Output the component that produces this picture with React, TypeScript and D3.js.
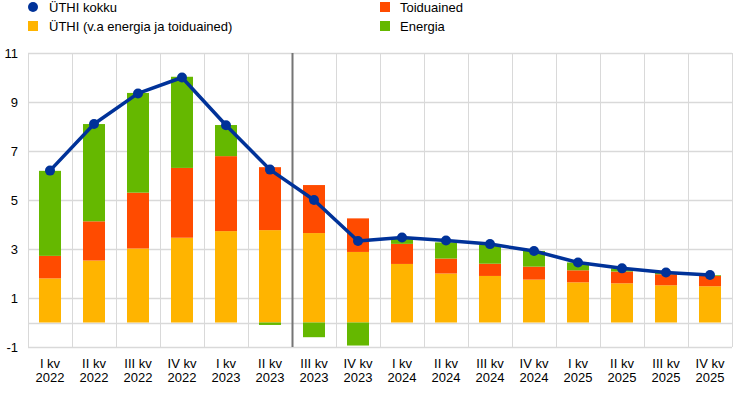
import React, { useRef, useEffect } from 'react';
import * as d3 from 'd3';

const quarters = ['I kv', 'II kv', 'III kv', 'IV kv', 'I kv', 'II kv', 'III kv', 'IV kv', 'I kv', 'II kv', 'III kv', 'IV kv', 'I kv', 'II kv', 'III kv', 'IV kv'];
const years = ['2022', '2022', '2022', '2022', '2023', '2023', '2023', '2023', '2024', '2024', '2024', '2024', '2025', '2025', '2025', '2025'];

const core = [1.8, 2.53, 3.02, 3.46, 3.73, 3.77, 3.65, 2.88, 2.39, 2.0, 1.9, 1.75, 1.64, 1.6, 1.52, 1.48];
const food = [0.92, 1.6, 2.28, 2.85, 3.06, 2.57, 1.96, 1.37, 0.82, 0.61, 0.5, 0.53, 0.49, 0.48, 0.45, 0.42];
const energy = [3.47, 3.97, 4.07, 3.72, 1.27, -0.1, -0.6, -0.94, 0.2, 0.66, 0.77, 0.64, 0.32, 0.13, 0.07, 0.03];
const total = [6.2, 8.1, 9.35, 10.0, 8.05, 6.24, 5.0, 3.33, 3.47, 3.35, 3.2, 2.92, 2.45, 2.21, 2.04, 1.94];

const yTicks = [11, 9, 7, 5, 3, 1, -1];

const colors = { total: '#003299', core: '#ffb400', food: '#ff4b00', energy: '#65b800' };

const W = 744;
const H = 397;

const App = () => {
  const ref = useRef<SVGSVGElement>(null);

  useEffect(() => {
    const svg = d3.select(ref.current);
    svg.selectAll('*').remove();

    const left = 28, right = 732, top = 53, bottom = 347;
    const idx = quarters.map((_, i) => String(i));
    const x = d3.scaleBand().domain(idx).range([left, right]).paddingInner(0).paddingOuter(0);
    const y = d3.scaleLinear().domain([-1, 11]).range([bottom, top]);
    const font = 'Liberation Sans, Arial, sans-serif';

    const g = svg.append('g');

    // horizontal grid
    g.selectAll('line.h')
      .data([...yTicks, 0])
      .enter()
      .append('line')
      .attr('x1', left)
      .attr('x2', right)
      .attr('y1', (d) => Math.round(y(d)) + 0.5)
      .attr('y2', (d) => Math.round(y(d)) + 0.5)
      .attr('stroke', '#d9d9d9')
      .attr('stroke-width', 1.5);

    // vertical grid at category boundaries
    const bounds = d3.range(quarters.length + 1).map((i) => left + i * x.step());
    g.selectAll('line.v')
      .data(bounds)
      .enter()
      .append('line')
      .attr('x1', (d) => Math.round(d) + 0.5)
      .attr('x2', (d) => Math.round(d) + 0.5)
      .attr('y1', y(11))
      .attr('y2', y(-1))
      .attr('stroke', '#d9d9d9')
      .attr('stroke-width', 1);

    // stacked bars
    const rows = quarters.map((_, i) => ({ i: String(i), core: core[i], food: food[i], energy: energy[i] }));
    const stack = d3
      .stack<any>()
      .keys(['core', 'food', 'energy'])
      .offset(d3.stackOffsetDiverging);
    const series = stack(rows);
    const bw = x.bandwidth() / 2;

    series.forEach((s) => {
      g.append('g')
        .selectAll('rect')
        .data(s)
        .enter()
        .append('rect')
        .attr('x', (d: any) => (x(d.data.i) as number) + (x.bandwidth() - bw) / 2)
        .attr('width', bw)
        .attr('y', (d) => y(Math.max(d[0], d[1])))
        .attr('height', (d) => Math.abs(y(d[0]) - y(d[1])))
        .attr('fill', (colors as any)[s.key]);
    });

    // vertical separator (projections start)
    g.append('line')
      .attr('x1', Math.round(bounds[6]) + 0.5)
      .attr('x2', Math.round(bounds[6]) + 0.5)
      .attr('y1', y(11))
      .attr('y2', y(-1))
      .attr('stroke', '#757575')
      .attr('stroke-width', 2);

    // total line
    const line = d3
      .line<number>()
      .x((_, i) => (x(String(i)) as number) + x.bandwidth() / 2)
      .y((d) => y(d));
    g.append('path')
      .datum(total)
      .attr('d', line)
      .attr('fill', 'none')
      .attr('stroke', colors.total)
      .attr('stroke-width', 3.5)
      .attr('stroke-linejoin', 'round');
    g.selectAll('circle.p')
      .data(total)
      .enter()
      .append('circle')
      .attr('cx', (_, i) => (x(String(i)) as number) + x.bandwidth() / 2)
      .attr('cy', (d) => y(d))
      .attr('r', 5)
      .attr('fill', colors.total);

    // y axis labels
    g.selectAll('text.y')
      .data(yTicks)
      .enter()
      .append('text')
      .attr('x', 18)
      .attr('y', (d) => y(d) + 4.5)
      .attr('text-anchor', 'end')
      .attr('font-family', font)
      .attr('font-size', 13)
      .attr('fill', '#000')
      .text((d) => String(d));

    // x axis labels
    const xl = g.selectAll('text.x').data(quarters).enter().append('text')
      .attr('text-anchor', 'middle')
      .attr('font-family', font)
      .attr('font-size', 13)
      .attr('fill', '#000');
    xl.append('tspan')
      .attr('x', (_, i) => (x(String(i)) as number) + x.bandwidth() / 2)
      .attr('y', 368)
      .text((d) => d);
    xl.append('tspan')
      .attr('x', (_, i) => (x(String(i)) as number) + x.bandwidth() / 2)
      .attr('y', 382)
      .text((_, i) => years[i]);

    // legend
    const leg = g.append('g').attr('font-family', font).attr('font-size', 13).attr('fill', '#000');
    leg.append('circle').attr('cx', 33).attr('cy', 7).attr('r', 5).attr('fill', colors.total);
    leg.append('text').attr('x', 49).attr('y', 12).text('ÜTHI kokku');
    leg.append('rect').attr('x', 28).attr('y', 21).attr('width', 10).attr('height', 10).attr('fill', colors.core);
    leg.append('text').attr('x', 49).attr('y', 31).text('ÜTHI (v.a energia ja toiduained)');
    leg.append('rect').attr('x', 380).attr('y', 2).attr('width', 10).attr('height', 10).attr('fill', colors.food);
    leg.append('text').attr('x', 400).attr('y', 12).text('Toiduained');
    leg.append('rect').attr('x', 380).attr('y', 21).attr('width', 10).attr('height', 10).attr('fill', colors.energy);
    leg.append('text').attr('x', 400).attr('y', 31).text('Energia');
  }, []);

  return (
    <div style={{ position: 'absolute', left: 0, top: 0, width: W, height: H, background: '#fff' }}>
      <svg ref={ref} width={W} height={H} />
    </div>
  );
};

export default App;
